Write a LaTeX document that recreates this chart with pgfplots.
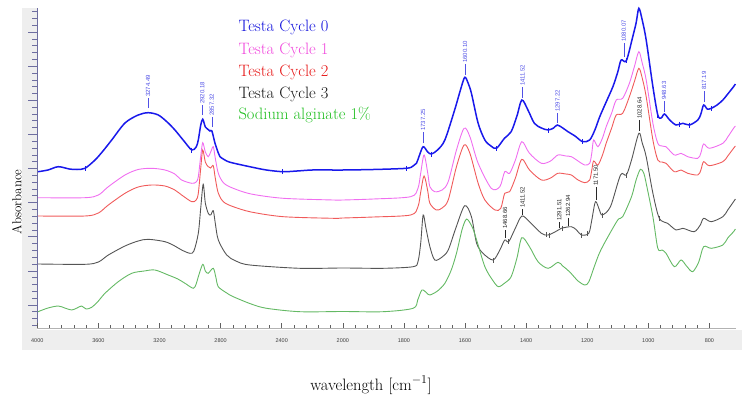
\documentclass[border=0pt]{standalone}
\usepackage{pgfplots}
\pgfplotsset{compat=1.18}
\usepackage{fontspec}
\newfontfamily\lsans{Liberation Sans}
\definecolor{cblue}{RGB}{25,25,235}
\definecolor{cpink}{RGB}{240,110,240}
\definecolor{cred}{RGB}{240,90,90}
\definecolor{cblack}{RGB}{85,85,85}
\definecolor{cgreen}{RGB}{100,185,100}
\definecolor{tblue}{RGB}{15,15,220}
\definecolor{tpink}{RGB}{240,70,220}
\definecolor{tred}{RGB}{230,20,20}
\definecolor{tblack}{RGB}{20,20,20}
\definecolor{tgreen}{RGB}{30,190,30}
\definecolor{pkblue}{RGB}{80,80,230}
\definecolor{pkblack}{RGB}{40,40,40}
\definecolor{yax}{RGB}{110,110,160}
\definecolor{band}{RGB}{238,238,238}
\newcommand{\pkfont}{\lsans\fontsize{6}{7}\selectfont}
\newcommand{\pk}[5]{\draw[#5,line width=0.5pt] (axis cs:#1,#2) -- (axis cs:#1,#3) node[rotate=90,anchor=west,inner sep=0.8pt,font=\pkfont,text=#5]{#4};}
\begin{document}
\begin{tikzpicture}
\fill[band] (-15.3pt,-22pt) rectangle (704.7pt,-2pt);
\fill[band] (-15.3pt,-2pt) rectangle (0pt,320pt);
% y axis with outward ticks
\begin{axis}[
  at={(0pt,0pt)}, anchor=south west,
  scale only axis, width=698.7pt, height=320pt,
  xmin=0, xmax=2287, ymin=0, ymax=320,
  axis x line=none, axis y line*=left,
  y axis line style={yax, line width=0.8pt},
  xtick=\empty,
  ytick={23,57.1,91.2,125.3,159.4,193.5,227.6,261.7,295.8},
  minor ytick={2.54,9.36,16.18,29.82,36.64,43.46,50.28,63.92,70.74,77.56,84.38,98.02,104.84,111.66,118.48,132.12,138.94,145.76,152.58,166.22,173.04,179.86,186.68,200.32,207.14,213.96,220.78,234.42,241.24,248.06,254.88,268.52,275.34,282.16,288.98,302.62,309.44,316.26},
  yticklabels={},
  tick align=outside, major tick length=9pt, minor tick length=5pt,
  tick style={yax, line width=0.8pt},
]
\end{axis}
\begin{axis}[
  at={(0pt,0pt)}, anchor=south west,
  scale only axis, width=698.7pt, height=320pt,
  xmin=0, xmax=2287, ymin=0, ymax=320,
  axis x line*=bottom, axis y line=none,
  x axis line style={gray!60, line width=0.6pt},
  x filter/.expression={x>=2000 ? (4000-x)/2 : 3000-x},
  xtick={0,200,400,600,800,1000,1200,1400,1600,1800,2000,2200},
  xticklabels={4000,3600,3200,2800,2400,2000,1800,1600,1400,1200,1000,800},
  minor x tick num=4,
  ytick=\empty,
  tick align=inside, major tick length=5pt, minor tick length=3pt,
  tick style={gray!75!black, line width=0.6pt},
  xticklabel style={font=\lsans\fontsize{5.5}{6}\selectfont, text=black!75, yshift=-7pt},
  xlabel={wavelength [cm$^{-1}$]},
  xlabel style={at={(rel axis cs:0.4776,0)}, anchor=base, yshift=-62pt, font=\fontsize{16.5}{20}\selectfont},
  clip=false,
  every axis plot/.append style={smooth, tension=0.5},
]
% Testa Cycle 0
\addplot[cblue, line width=1.5pt] table {
3995 156.3
3930 158
3863 161.3
3790 159
3740 158.5
3688 159.7
3622 168
3570 177
3513 188
3426 205
3340 213
3274 215.3
3208 213
3150 206
3099 198
3040 187
2989 178
2960 181
2946 188
2930 203
2917 208.7
2900 201
2886 199
2870 197
2857 197
2837 185
2815 175
2804 171.3
2760 167
2719 165
2600 161
2500 158
2392 156.3
2300 157
2200 158
2065 158
2000 158
1900 158.5
1792 159.7
1770 162
1759 164.7
1750 172
1737 181.3
1722 176
1710 174
1690 178
1666 188
1634 218
1615 238
1601 250.7
1590 245
1579 234.7
1557 204.7
1535 188
1515 182
1497 179.7
1471 189.7
1449 196.3
1430 212
1414 228
1394 218
1373 204.7
1350 200
1328 198
1310 200
1298 203
1280 200
1263 196.3
1240 192
1215 186.3
1192 188
1175 198
1159 211.3
1138 226
1116 241.3
1100 256
1089 268
1072 267.3
1051 291.3
1040 305
1031 319.7
1020 308
1007 288
985 241.3
969 213
958 210
947 214
930 208
909 203
887 204.7
865 203
838 208
828 214
819 223
807 219
794 219.7
775 223
756 228
740 234
721 241.3
715 244
};
% Testa Cycle 1
\addplot[cpink, line width=0.9pt] table {
3995 130.3
3688 130.3
3600 133
3535 141.3
3426 153
3340 158.5
3251 159.7
3164 158
3100 154
3055 148
2989 144.7
2960 146
2946 151.3
2930 172
2917 185.3
2900 176
2881 171.3
2865 176
2848 181.3
2835 170
2815 154.7
2780 145
2717 139.7
2600 134
2389 129.7
2062 128
2000 128
1900 129
1778 131.3
1754 139.7
1745 155
1734 173
1722 155
1715 141.3
1699 136.3
1675 138
1655 146.3
1628 178
1603 199.7
1584 191.3
1557 164.7
1514 139.7
1486 141.3
1470 156.3
1454 154.7
1435 168
1414 186.3
1389 174.7
1350 164.7
1320 167
1296 173
1270 172
1252 171.3
1230 167
1208 163
1192 164.7
1185 175
1179 188
1165 181.3
1150 190
1138 201.3
1120 215
1105 228
1084 229.7
1062 244.7
1045 262
1031 276.3
1020 265
1007 248
985 204.7
969 184.7
955 182
942 181.3
915 173
893 174.7
871 171.3
838 169.7
828 175
819 184
800 179.7
756 184.7
740 191
721 199.7
715 202
};
% Testa Cycle 2
\addplot[cred, line width=0.9pt] table {
3995 112
3688 112
3600 115
3535 123
3426 134.7
3340 141
3251 143
3164 142
3100 138
3055 133
2989 126.3
2960 128
2946 134.7
2930 160
2917 178
2900 166
2881 161.3
2865 160
2848 162.3
2835 150
2815 134.7
2780 126
2717 121.3
2600 116
2389 111.3
2062 109.7
2000 110
1900 111
1778 113
1754 121.3
1745 136
1734 152
1722 137
1715 124.7
1694 118
1675 120
1655 128
1628 161.3
1603 183
1584 174.7
1557 144.7
1535 128
1502 118
1483 119.7
1470 134.7
1454 136.3
1435 150
1414 168.7
1389 158
1350 148
1320 150
1296 154.7
1270 154
1252 153
1230 148
1208 145.3
1192 148
1185 158
1179 167
1165 163
1150 173
1138 184.7
1120 200
1105 213
1084 214.7
1062 231.3
1045 247
1031 259.7
1020 250
1007 231.3
985 188
969 168
955 166
942 164.7
915 156.3
893 158
871 154.7
838 153
828 158
819 166.3
800 162.3
756 166.3
740 172
721 179.7
715 182
};
% Testa Cycle 3
\addplot[cblack, line width=0.9pt] table {
3995 64
3688 63.7
3600 66
3535 73
3426 82
3340 87
3274 88.7
3164 86.3
3100 82
3055 78
3001 74.7
2975 77
2946 94.7
2930 120
2914 143.7
2900 125
2881 114.7
2865 113
2848 117.3
2835 105
2815 88
2760 73
2700 67
2608 63
2281 59.7
2000 60
1868 59.7
1770 61.3
1754 66.3
1745 85
1737 113
1728 100
1715 81.3
1699 68
1675 71
1655 78
1630 100
1601 122.3
1579 111.3
1562 84.7
1541 74.7
1508 68
1486 78
1470 88
1457 86.3
1435 100
1414 112
1389 106.3
1350 94.7
1328 93
1300 97
1285 99.7
1252 101.3
1235 98
1219 93
1195 94.7
1185 108
1173 126.3
1160 118
1151 113
1124 121.3
1091 153
1072 153
1055 168
1031 194.7
1020 185
1007 171.3
985 134.7
964 109.7
937 104.7
909 98
887 99.7
850 96.3
830 103
819 109.7
794 106.3
756 111.3
740 118
721 126.3
715 129
};
% Sodium alginate 1%
\addplot[cgreen, line width=0.9pt] table {
3995 16.3
3930 20
3863 22
3820 20
3775 18
3740 20
3710 22
3680 19
3644 20.7
3600 27
3557 34.7
3470 46.3
3382 54.7
3300 57
3230 58
3143 53
3080 49
3033 44.7
2979 39.7
2960 44
2946 51.3
2917 63.7
2900 57
2881 54.7
2848 59.7
2830 50
2815 41.3
2760 35
2717 31.3
2600 24
2499 19.7
2281 16.3
2000 16.5
1868 16.3
1770 19.7
1755 28
1741 38
1725 35
1715 33
1690 37
1666 44.7
1645 58
1628 74.7
1610 98
1598 108
1590 108
1575 100
1562 88
1535 61.3
1510 48
1491 41.3
1470 45
1449 51.3
1430 70
1414 90.3
1389 81.3
1361 66.3
1328 59.7
1296 65.7
1280 62
1258 56.3
1230 47
1208 43
1195 46
1177 61.3
1160 75
1138 88
1100 108
1084 111.3
1055 131.3
1040 148
1026 158.7
1015 155
1007 144.7
985 111.3
969 79.7
955 78
942 74.7
915 61.3
893 68
875 62
855 56.3
835 66
819 81.3
794 79.7
756 83
740 90
721 96.3
715 99
};
% peak-pick markers
\addplot[only marks, mark=|, mark size=2.5pt, cblue, mark options={line width=0.6pt}] table {
3688 159.7
2989 178
2394 156.3
1792 159.7
1710 174
1497 179.7
1328 198
1215 186.3
1072 267.3
969 213
898 204
865 203
794 219.7
};
\addplot[only marks, mark=|, mark size=2.5pt, cblack, mark options={line width=0.6pt}] table {
1508 68
1457 86.3
1333 93.5
1325 93
1282 99.7
1221 93
1200 94.7
1151 113
1072 153
964 109.7
};
% peak labels
\pk{362.8}{220}{230}{3274.49}{pkblue}
\pk{539.9}{213}{223}{2920.18}{pkblue}
\pk{571.3}{201}{211}{2857.32}{pkblue}
\pk{1262.75}{185}{196}{1737.25}{pkblue}
\pk{1399.9}{253}{264}{1600.10}{pkblue}
\pk{1588.5}{230}{241}{1411.52}{pkblue}
\pk{1702.8}{205}{215}{1297.22}{pkblue}
\pk{1919.9}{271}{285}{1080.07}{pkblue}
\pk{2051.4}{216}{227}{948.63}{pkblue}
\pk{2182.8}{226}{237}{817.19}{pkblue}
\pk{1531.3}{90}{98}{1468.66}{pkblack}
\pk{1588.5}{113}{119}{1411.52}{pkblack}
\pk{1708.5}{100}{106}{1291.51}{pkblack}
\pk{1737.1}{102}{110}{1262.94}{pkblack}
\pk{1828.5}{128}{141}{1171.50}{pkblack}
\pk{1971.4}{197}{208}{1028.64}{pkblack}
% legend text
\node[anchor=base west, inner sep=0pt, text=tblue, font=\fontsize{16.5}{20}\selectfont] at (axis cs:658,296.3) {Testa Cycle 0};
\node[anchor=base west, inner sep=0pt, text=tpink, font=\fontsize{16.5}{20}\selectfont] at (axis cs:658,274) {Testa Cycle 1};
\node[anchor=base west, inner sep=0pt, text=tred, font=\fontsize{16.5}{20}\selectfont] at (axis cs:658,252) {Testa Cycle 2};
\node[anchor=base west, inner sep=0pt, text=tblack, font=\fontsize{16.5}{20}\selectfont] at (axis cs:658,229.7) {Testa Cycle 3};
\node[anchor=base west, inner sep=0pt, text=tgreen, font=\fontsize{16.5}{20}\selectfont] at (axis cs:658,208.7) {Sodium alginate 1\%};
% y label
\node[rotate=90, anchor=center, font=\fontsize{13}{15}\selectfont] at (axis cs:-67.4,126) {Absorbance};
\end{axis}
\pgfresetboundingbox
\path[use as bounding box] (-37.3pt,-69pt) rectangle (704.7pt,328pt);
\end{tikzpicture}
\end{document}
